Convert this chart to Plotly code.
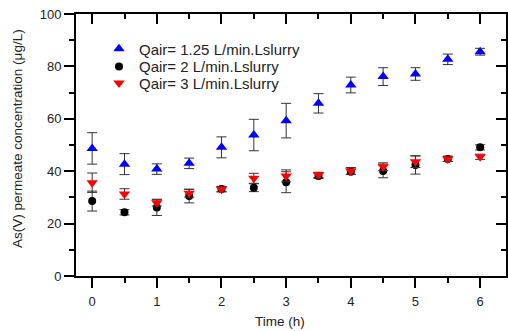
import plotly.graph_objects as go

# Sampling times (h)
time_h = [0, 0.5, 1, 1.5, 2, 2.5, 3, 3.5, 4, 4.5, 5, 5.5, 6]

# As(V) permeate concentration (ug/L) and standard deviations
as_q125 = [48.7, 42.7, 40.8, 43.0, 49.1, 53.8, 59.3, 65.9, 72.9, 76.1, 77.1, 82.7, 85.6]
err_q125 = [6.0, 4.0, 2.0, 2.0, 4.0, 6.0, 6.6, 3.7, 3.0, 3.4, 2.4, 2.0, 1.3]

as_q2 = [28.6, 24.3, 26.1, 30.5, 33.2, 33.7, 35.8, 38.2, 39.8, 40.1, 42.4, 44.7, 49.1]
err_q2 = [3.8, 1.0, 3.0, 2.6, 1.0, 1.5, 4.0, 1.0, 1.0, 2.6, 3.5, 1.0, 1.0]

as_q3 = [35.6, 31.3, 28.0, 31.6, 33.1, 37.3, 38.2, 38.6, 40.1, 41.7, 43.6, 44.7, 45.5]
err_q3 = [3.7, 2.0, 1.3, 1.5, 1.0, 1.9, 2.3, 1.0, 1.3, 1.5, 2.2, 1.0, 1.0]

series = [
    ("Qair= 1.25 L/min.Lslurry", as_q125, err_q125, "triangle-up", "#0000FF", 10, "legend"),
    ("Qair= 2 L/min.Lslurry", as_q2, err_q2, "circle", "#000000", 8, "legend2"),
    ("Qair= 3 L/min.Lslurry", as_q3, err_q3, "triangle-down", "#FF0000", 10, "legend3"),
]

XR = [-0.25, 6.4]
YR = [0, 100]
FONT = "Liberation Sans, Arial, sans-serif"
TXT = "#222222"

fig = go.Figure()
for name, vals, errs, sym, col, size, leg in series:
    fig.add_trace(go.Scatter(
        x=time_h, y=vals, name=name, mode="markers", legend=leg,
        marker=dict(symbol=sym, color=col, size=size, line=dict(width=0)),
        error_y=dict(type="data", array=errs, visible=True,
                     color="#333333", thickness=1, width=5),
    ))

# Invisible trace so the mirrored top/right axes are drawn
fig.add_trace(go.Scatter(x=[XR[0]], y=[YR[0]], xaxis="x2", yaxis="y2",
                         mode="markers", marker=dict(opacity=0),
                         showlegend=False, hoverinfo="skip"))

def legend_row(ypos):
    return dict(x=0.0535, y=ypos, xanchor="left", yanchor="middle",
                bgcolor="rgba(0,0,0,0)", borderwidth=0,
                font=dict(family=FONT, size=15, color=TXT),
                itemsizing="trace")

tick_common = dict(tickcolor="black", tickwidth=1.5, showline=True,
                   linecolor="black", linewidth=2, showgrid=False, zeroline=False)

fig.update_layout(
    width=508, height=331,
    margin=dict(l=76, r=2, t=14, b=55),
    paper_bgcolor="white", plot_bgcolor="white",
    font=dict(family=FONT, size=13, color=TXT),
    showlegend=True,
    legend=legend_row(0.866),
    legend2=legend_row(0.799),
    legend3=legend_row(0.7355),
    xaxis=dict(
        range=XR, dtick=1, tick0=0, ticks="outside", ticklen=10,
        minor=dict(dtick=0.5, tick0=0, ticks="outside", ticklen=5,
                   tickwidth=1.5, tickcolor="black"),
        tickfont=dict(size=13), ticklabelstandoff=2, **tick_common,
    ),
    yaxis=dict(
        range=YR, dtick=20, tick0=0, ticks="outside", ticklen=10,
        minor=dict(dtick=10, tick0=0, ticks="outside", ticklen=5,
                   tickwidth=1.5, tickcolor="black"),
        tickfont=dict(size=13), **tick_common,
    ),
    xaxis2=dict(
        range=XR, dtick=1, tick0=0, overlaying="x", side="top", anchor="y",
        ticks="inside", ticklen=10, showticklabels=False,
        minor=dict(dtick=0.5, tick0=0, ticks="inside", ticklen=5,
                   tickwidth=1.5, tickcolor="black"),
        **tick_common,
    ),
    yaxis2=dict(
        range=YR, dtick=20, tick0=0, overlaying="y", side="right", anchor="x",
        ticks="inside", ticklen=10, showticklabels=False,
        minor=dict(dtick=10, tick0=0, ticks="inside", ticklen=5,
                   tickwidth=1.5, tickcolor="black"),
        **tick_common,
    ),
    annotations=[
        dict(text="Time (h)", xref="paper", yref="paper", x=0.474, y=0,
             yshift=-45, xanchor="center", yanchor="middle", showarrow=False,
             font=dict(size=13.5)),
        dict(text="As(V) permeate concentration (\u03bcg/L)", xref="paper",
             yref="paper", x=0, xshift=-58, y=0.523, xanchor="center",
             yanchor="middle", textangle=-90, showarrow=False,
             font=dict(size=13.5)),
    ],
)

fig.write_html("out.html")
